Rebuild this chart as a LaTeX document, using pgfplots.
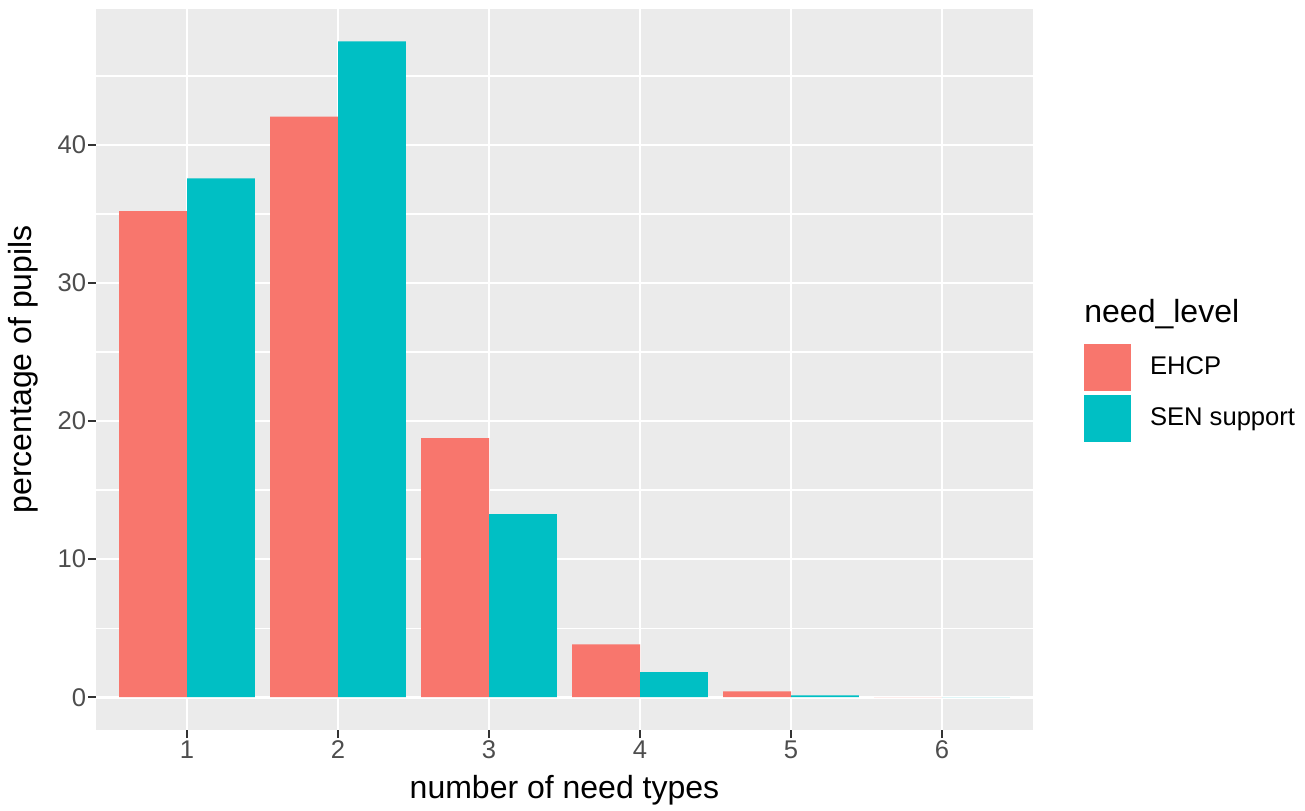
\documentclass[border=0pt]{standalone}
\usepackage{fontspec}
\setmainfont{Liberation Sans}
\usepackage{pgfplots}
\pgfplotsset{compat=1.18}
\definecolor{ehcp}{HTML}{F8766D}
\definecolor{sen}{HTML}{00BFC4}
\definecolor{panel}{HTML}{EBEBEB}
\definecolor{tickgray}{HTML}{4D4D4D}
\definecolor{tickmark}{HTML}{333333}
\begin{document}
\begin{tikzpicture}
\begin{axis}[
  name=ax,
  scale only axis,
  width=468.1pt, height=360.65pt,
  xmin=0.4, xmax=6.6, ymin=-2.375, ymax=49.875,
  axis background/.style={fill=panel},
  axis line style={draw=none},
  xtick={1,2,3,4,5,6},
  ytick={0,10,20,30,40},
  minor ytick={5,15,25,35,45},
  xmajorgrids, ymajorgrids, yminorgrids,
  major grid style={white, line width=1.3pt},
  minor grid style={white, line width=0.65pt},
  tick align=outside,
  xtick pos=bottom, ytick pos=left,
  major tick length=4pt,
  minor tick length=0pt,
  tick style={tickmark, line width=1.1pt},
  /pgf/number format/assume math mode=true,
  tick label style={font=\fontsize{12.8}{15}\selectfont, text=tickgray, inner sep=0pt},
  xticklabel style={anchor=north, yshift=-1pt},
  yticklabel style={anchor=east, xshift=-1pt},
  xlabel={number of need types},
  ylabel={percentage of pupils},
  label style={font=\fontsize{16}{19}\selectfont, text=black, inner sep=0pt},
  xlabel style={at={(axis description cs:0.5,-0.0943)}, anchor=base},
  ylabel style={at={(axis description cs:-0.0688,0.5)}, anchor=base, rotate=0},
  ybar, bar width=0.45,
  legend image code/.code={\path[#1, draw=none] (0pt,-11.75pt) rectangle (23.5pt,11.75pt);},
  legend style={at={(axis description cs:1.0549,0.5351)}, anchor=north west,
    draw=none, fill=none, inner sep=0pt, outer sep=0pt, row sep=2pt,
    font=\fontsize{12.8}{15}\selectfont,
    nodes={inner sep=0pt},
    /tikz/every odd column/.append style={column sep=9.5pt}},
  legend cell align=left,
  clip=false,
]
\addplot[fill=ehcp, draw=none, bar shift=-0.225] coordinates {
  (1,35.22) (2,42.05) (3,18.77) (4,3.82) (5,0.43) (6,0)
};
\addlegendentry{EHCP}
\addplot[fill=sen, draw=none, bar shift=0.225] coordinates {
  (1,37.59) (2,47.50) (3,13.26) (4,1.81) (5,0.14) (6,0)
};
\addlegendentry{SEN support}
\node[anchor=base west, inner sep=0pt, font=\fontsize{16}{19}\selectfont] at (axis description cs:1.0549,0.5643) {need\_level};
\end{axis}
\pgfresetboundingbox
\useasboundingbox ([xshift=-48.2pt,yshift=-40pt]ax.south west) rectangle ([xshift=136.2pt,yshift=4.35pt]ax.north east);
\end{tikzpicture}
\end{document}
